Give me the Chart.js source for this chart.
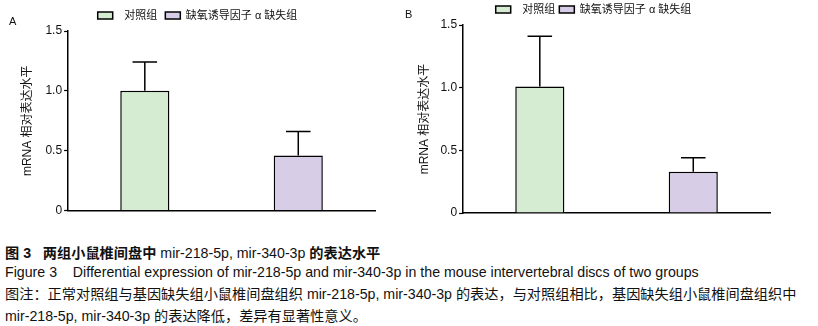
<!DOCTYPE html>
<html>
<head>
<meta charset="utf-8">
<script src="https://cdn.jsdelivr.net/npm/chart.js@4/dist/chart.umd.min.js"></script>
<style>
  body { margin: 0; background: #fff; width: 818px; height: 326px; overflow: hidden; position: relative;
         font-family: 'Liberation Sans', 'Noto Sans CJK SC', sans-serif; color: #111; }
  .panel { position: absolute; top: 0; height: 225px; }
  .tag { position: absolute; font-size: 11px; }
  .cap { position: absolute; left: 5px; font-size: 14.2px; line-height: 20px; white-space: nowrap; }
</style>
</head>
<body>
<div class="panel" style="left:0;width:400px"><canvas id="chartA"></canvas></div>
<div class="panel" style="left:400px;width:418px"><canvas id="chartB"></canvas></div>
<div class="tag" style="left:9px;top:15px">A</div>
<div class="tag" style="left:405px;top:8px">B</div>
<div class="cap" style="top:243px"><b>图 3</b>&nbsp;&nbsp;&nbsp;<b>两组小鼠椎间盘中</b> mir-218-5p, mir-340-3p <b>的表达水平</b></div>
<div class="cap" style="top:262px">Figure 3&nbsp;&nbsp;&nbsp; Differential expression of mir-218-5p and mir-340-3p in the mouse intervertebral discs of two groups</div>
<div class="cap" style="top:284px">图注：正常对照组与基因缺失组小鼠椎间盘组织 mir-218-5p, mir-340-3p 的表达，与对照组相比，基因缺失组小鼠椎间盘组织中</div>
<div class="cap" style="top:306px">mir-218-5p, mir-340-3p 的表达降低，差异有显著性意义。</div>
<script>
const groups = ['对照组', '缺氧诱导因子 α 缺失组'];
const yTicks = [0, 0.5, 1.0, 1.5];

// panel A: mir-218-5p
const meanA = [1.00, 0.46];
const errA = [0.24, 0.20];
// panel B: mir-340-3p
const meanB = [1.01, 0.33];
const errB = [0.40, 0.11];

const fills = ['rgb(213, 236, 211)', 'rgb(216, 205, 230)'];

Chart.defaults.font.family = "'Liberation Sans', 'Noto Sans CJK SC', sans-serif";
Chart.defaults.color = '#111';

// upper whisker + cap on each bar
const errorBars = {
    id: 'errorBars',
    afterDatasetsDraw(chart) {
        const {ctx, scales: {y}} = chart;
        ctx.save();
        ctx.strokeStyle = '#000';
        ctx.lineWidth = 1.5;
        chart.data.datasets.forEach((ds, i) => {
            chart.getDatasetMeta(i).data.forEach((bar, j) => {
                const v = ds.data[j];
                if (v == null) return;
                const top = y.getPixelForValue(v + ds.errors[j]);
                const half = bar.width / 4;
                ctx.beginPath();
                ctx.moveTo(bar.x, bar.y);
                ctx.lineTo(bar.x, top);
                ctx.moveTo(bar.x - half, top);
                ctx.lineTo(bar.x + half, top);
                ctx.stroke();
            });
        });
        ctx.restore();
    }
};

function makeChart(id, means, errs, opt) {
    const datasets = groups.map((g, i) => ({
        label: (i === 0 ? '  ' : '') + g,
        data: groups.map((_, j) => j === i ? means[i] : null),
        errors: errs.map((e, j) => j === i ? e : 0),
        backgroundColor: fills[i],
        borderColor: '#000',
        borderWidth: 1.5,
        borderSkipped: 'bottom'
    }));
    return new Chart(document.getElementById(id), {
        type: 'bar',
        plugins: [errorBars],
        data: { labels: groups, datasets },
        options: {
            responsive: true,
            maintainAspectRatio: false,
            animation: false,
            skipNull: true,
            categoryPercentage: 0.8,
            barPercentage: 0.4,
            layout: { padding: opt.padding },
            plugins: {
                tooltip: { enabled: false },
                legend: {
                    position: 'top',
                    labels: {
                        boxWidth: 15,
                        boxHeight: 7,
                        padding: opt.legendPad,
                        font: { size: 11 },
                        color: '#111'
                    }
                }
            },
            scales: {
                x: {
                    grid: { display: false },
                    ticks: { display: false },
                    border: { display: true, color: '#000', width: 1.5 }
                },
                y: {
                    min: 0,
                    max: 1.5,
                    afterBuildTicks: s => { s.ticks = yTicks.map(v => ({ value: v })); },
                    ticks: {
                        padding: 2,
                        font: { size: 12 },
                        color: '#111',
                        callback: v => v === 0 ? '0' : v.toFixed(1)
                    },
                    grid: { drawOnChartArea: false, drawTicks: true, tickLength: 4, tickColor: '#000', tickWidth: 1.2 },
                    border: { display: true, color: '#000', width: 1.5 },
                    title: {
                        display: true,
                        text: 'mRNA 相对表达水平',
                        font: { size: 12 },
                        color: '#111',
                        padding: { top: 0, bottom: opt.titleGap }
                    }
                }
            }
        }
    });
}

makeChart('chartA', meanA, errA, {
    padding: { left: 20, right: 25, top: 2, bottom: 6.5 },
    legendPad: 8,
    titleGap: 9
});
makeChart('chartB', meanB, errB, {
    padding: { left: 17, right: 48, top: 0, bottom: 4 },
    legendPad: 4,
    titleGap: 7
});
</script>
</body>
</html>
